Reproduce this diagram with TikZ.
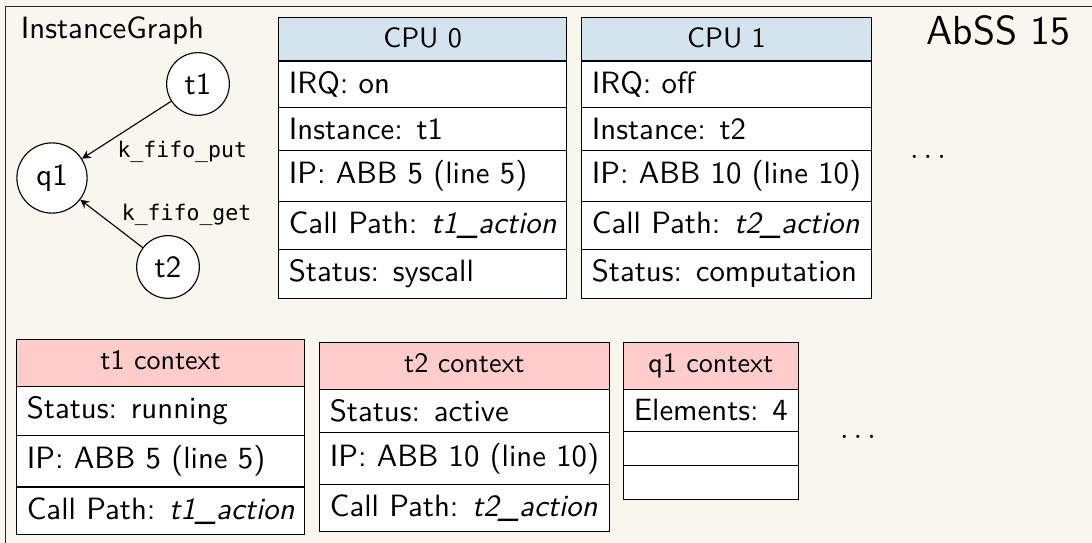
\documentclass[tikz,border=0pt,11pt]{standalone}
\usepackage{fontspec}
\setmonofont{DejaVu Sans Mono}[Scale=0.85]
\usetikzlibrary{shapes.multipart}
\renewcommand{\familydefault}{\sfdefault}
\definecolor{slidebg}{RGB}{249,246,238}
\definecolor{cpuhead}{RGB}{211,228,238}
\definecolor{ctxhead}{RGB}{255,204,204}
% header text of a box, with some extra depth
\newcommand{\boxhead}[2][1pt]{\small #2\rule[-#1]{0pt}{#1}}

\begin{document}
\begin{tikzpicture}[scale=0.25, >=stealth,
        vertex/.style={circle, draw, fill=white},
        syscall/.style={font=\ttfamily\footnotesize},
        infobox/.style={rectangle split, draw, anchor=north west, inner ysep=3.5pt,
            rectangle split part align={center,left}},
        cpubox/.style={infobox, rectangle split parts=6,
            rectangle split part fill={cpuhead,white}},
        ctxbox/.style={infobox, rectangle split parts=4,
            rectangle split part fill={ctxhead,white}}]
        \useasboundingbox (0,0) rectangle (54.6,-27.15);
        \clip (0,0) rectangle (54.6,-27.15);
        \fill [slidebg] (0,0) rectangle (54.6,-27.15);
        \draw [black!85] (0.275,-28) |- (55,-0.325);

        % instance graph
        \node [anchor=base west] (graphtitle) at (0.5,-1.95) {InstanceGraph};
        \node [vertex] (t1) at (9.9,-4.2) {t1};
        \node [vertex] (q1) at (2.6,-8.9) {q1};
        \node [vertex] (t2) at (8.4,-13.35) {t2};
        \draw [->] (t1) -- node [syscall, pos=0.66, below right, xshift=-2pt, yshift=3pt] {k\_fifo\_put} (q1);
        \draw [->] (t2) -- node [syscall, pos=0.35, above right, xshift=-3.5pt, yshift=-2pt] {k\_fifo\_get} (q1);

        \node [anchor=base east, font=\Large] (statename) at (54.05,-2.25) {AbSS 15};

        % cpus
        \node [cpubox] (cpu0) at (13.9,-0.85) {\boxhead{CPU 0}
            \nodepart{two} IRQ: on
            \nodepart{three} Instance: t1
            \nodepart{four} IP: ABB 5 (line 5)
            \nodepart{five} Call Path: \textit{t1\_action}
            \nodepart{six} Status: syscall};
        \node [cpubox] (cpu1) at (29.05,-0.85) {\boxhead{CPU 1}
            \nodepart{two} IRQ: off
            \nodepart{three} Instance: t2
            \nodepart{four} IP: ABB 10 (line 10)
            \nodepart{five} Call Path: \textit{t2\_action}
            \nodepart{six} Status: computation};
        \node (morecpus) at (46.4,-7.85) {$\dots$};

        % contexts
        \node [ctxbox] (t1ctx) at (0.8,-16.95) {\boxhead[2.4pt]{t1 context}
            \nodepart{two} Status: running
            \nodepart{three} IP: ABB 5 (line 5)
            \nodepart{four} Call Path: \textit{t1\_action}};
        \node [ctxbox] (t2ctx) at (15.95,-17.1) {\boxhead[2.4pt]{t2 context}
            \nodepart{two} Status: active
            \nodepart{three} IP: ABB 10 (line 10)
            \nodepart{four} Call Path: \textit{t2\_action}};
        \node [ctxbox] (q1ctx) at (31.15,-17.1) {\boxhead[2.4pt]{q1 context}
            \nodepart{two} Elements: 4
            \nodepart{three}
            \nodepart{four}};
        \node (morectx) at (42.9,-21.85) {$\dots$};
\end{tikzpicture}
\end{document}
